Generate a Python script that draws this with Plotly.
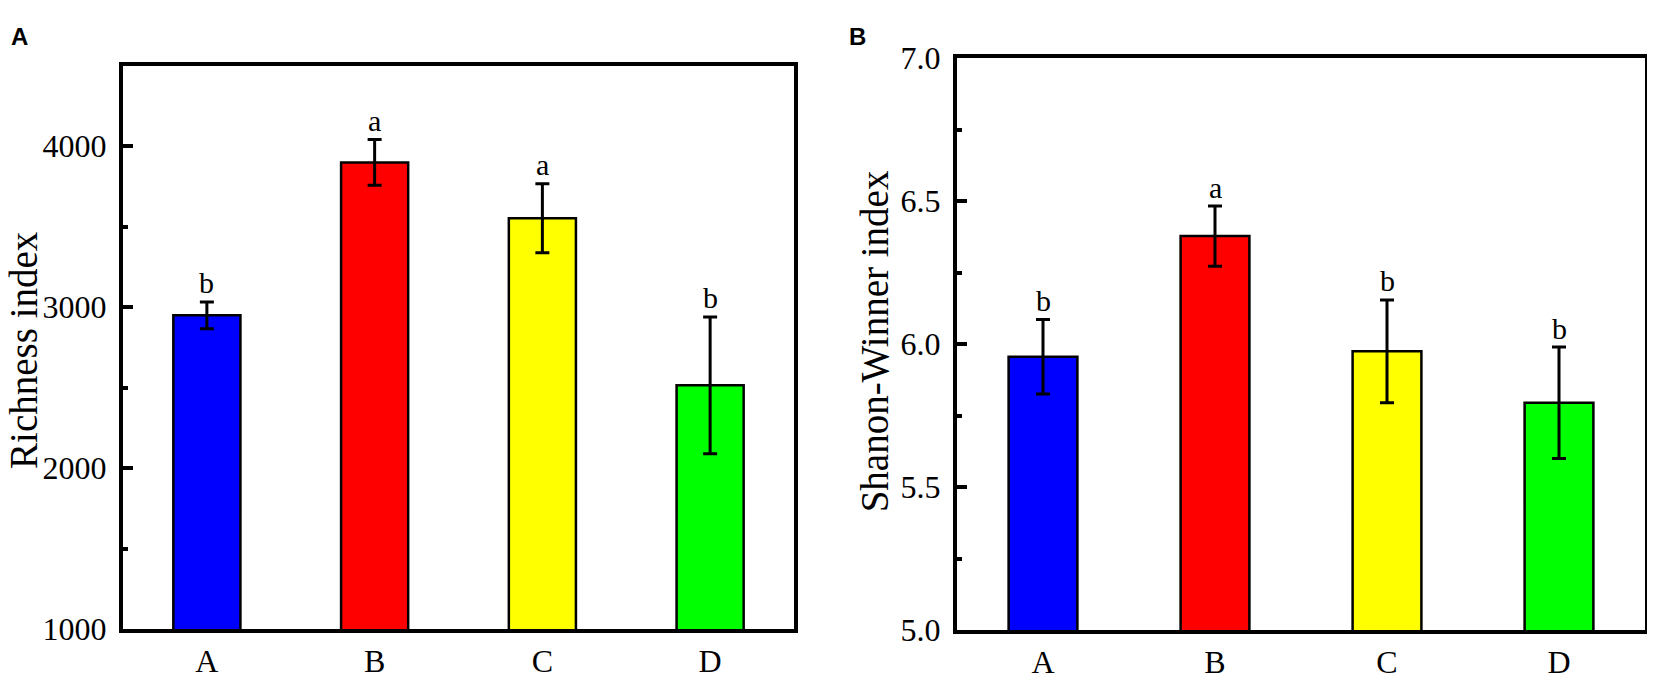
import plotly.graph_objects as go

### Data ###
groups        = ['A', 'B', 'C', 'D']
barColors     = ['#0000FF', '#FF0000', '#FFFF00', '#00FF00']

richness      = [2950, 3900, 3553, 2515]
richnessErr   = [83, 142, 214, 425]
richnessSig   = ['b', 'a', 'a', 'b']

shannon       = [5.956, 6.378, 5.975, 5.795]
shannonErr    = [0.13, 0.105, 0.18, 0.195]
shannonSig    = ['b', 'a', 'b', 'b']

serif = 'Liberation Serif'

# page is 1655x696, the html body adds an 8 px margin round the figure
W, H, OFF = 1647, 680, 8

def px(x):  # page x (px) -> paper
    return (x - OFF) / W

def py(y):  # page y (px, from top) -> paper
    return 1 - (y - OFF) / H

fig = go.Figure()

### Panel A ###
fig.add_trace(go.Bar(
    x            = groups,
    y            = richness,
    width        = 0.4,
    marker_color = barColors,
    marker_line  = dict(color='black', width=2.5),
    error_y      = dict(type='data', array=richnessErr, color='black', thickness=3, width=7),
    xaxis='x', yaxis='y', showlegend=False,
))

### Panel B ###
fig.add_trace(go.Bar(
    x            = groups,
    y            = shannon,
    width        = 0.4,
    marker_color = barColors,
    marker_line  = dict(color='black', width=2.5),
    error_y      = dict(type='data', array=shannonErr, color='black', thickness=3, width=7),
    xaxis='x2', yaxis='y2', showlegend=False,
))

# significance letters
for g, v, e, s in zip(groups, richness, richnessErr, richnessSig):
    fig.add_annotation(x=g, y=v + e, text=s, xref='x', yref='y', showarrow=False,
                       yshift=19, font=dict(family=serif, size=30, color='black'))
for g, v, e, s in zip(groups, shannon, shannonErr, shannonSig):
    fig.add_annotation(x=g, y=v + e, text=s, xref='x2', yref='y2', showarrow=False,
                       yshift=19, font=dict(family=serif, size=30, color='black'))

# panel labels
for lbl, lx in [('A', 19), ('B', 857)]:
    fig.add_annotation(x=px(lx), y=py(19), xref='paper', yref='paper', text='<b>' + lbl + '</b>',
                       xanchor='center', yanchor='middle', showarrow=False,
                       font=dict(family='Liberation Sans', size=24, color='black'))

# y axis titles
for txt, tx, ty in [('Richness index', 24, 350), ('Shanon-Winner index', 874, 341)]:
    fig.add_annotation(x=px(tx), y=py(ty), xref='paper', yref='paper', text=txt, textangle=-90,
                       xanchor='center', yanchor='middle', showarrow=False,
                       font=dict(family=serif, size=39, color='black'))

xaxis_style = dict(showline=True, linewidth=4, linecolor='black', mirror=True, ticks='',
                   showgrid=False, zeroline=False, range=[-0.5, 3.5],
                   tickfont=dict(family=serif, size=32, color='black'))
yaxis_style = dict(showline=True, linewidth=4, linecolor='black', mirror=True,
                   ticks='inside', ticklen=10, tickwidth=4, tickcolor='black',
                   showgrid=False, zeroline=False, ticklabelstandoff=6,
                   tickfont=dict(family=serif, size=32, color='black'))

fig.update_layout(
    width=W, height=H,
    margin=dict(l=0, r=0, t=0, b=0),
    paper_bgcolor='white', plot_bgcolor='white',
    xaxis =dict(domain=[px(123), px(794)], anchor='y',  **xaxis_style),
    xaxis2=dict(domain=[px(957), px(1645)], anchor='y2', **xaxis_style),
    yaxis =dict(domain=[py(645), py(50)], anchor='x', range=[1000, 4500],
                tickvals=[1000, 2000, 3000, 4000], ticktext=['1000', '2000', '3000', '4000'],
                minor=dict(ticks='inside', ticklen=5, tickwidth=4, tickcolor='black',
                           tickvals=[1500, 2500, 3500]), **yaxis_style),
    yaxis2=dict(domain=[py(646), py(42)], anchor='x2', range=[5.0, 7.0],
                tickvals=[5.0, 5.5, 6.0, 6.5, 7.0], ticktext=['5.0', '5.5', '6.0', '6.5', '7.0'],
                minor=dict(ticks='inside', ticklen=5, tickwidth=4, tickcolor='black',
                           tickvals=[5.25, 5.75, 6.25, 6.75]), **yaxis_style),
)

fig.write_html("out.html")
